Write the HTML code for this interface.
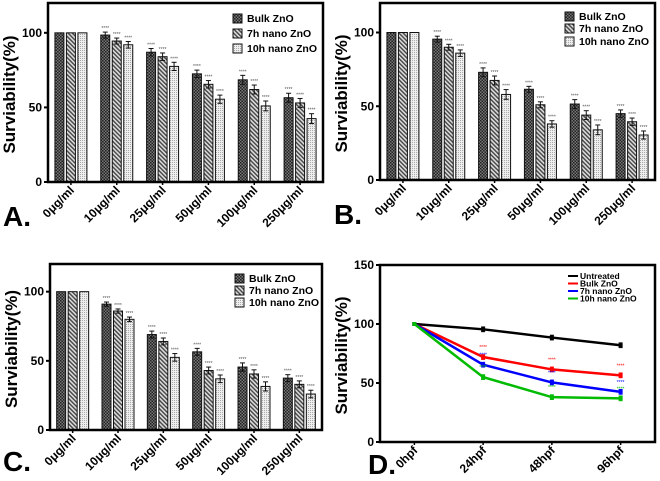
<!DOCTYPE html>
<html><head><meta charset="utf-8"><style>
body{margin:0;background:#fff;width:660px;height:481px;overflow:hidden}
svg{display:block;font-family:"Liberation Sans",Arial,sans-serif}
</style></head><body>
<svg id="fig" width="660" height="481" viewBox="0 0 660 481">
<defs>
<pattern id="pBulk" width="3" height="3" patternUnits="userSpaceOnUse"><rect width="3" height="3" fill="#777"/><rect width="1.5" height="1.5" fill="#222"/><rect x="1.5" y="1.5" width="1.5" height="1.5" fill="#222"/></pattern>
<pattern id="p7h" width="3" height="3" patternUnits="userSpaceOnUse" patternTransform="rotate(-45)"><rect width="3" height="3" fill="#ddd"/><rect width="1.4" height="3" fill="#444"/></pattern>
<pattern id="p10h" width="2" height="2" patternUnits="userSpaceOnUse"><rect width="2" height="2" fill="#eee"/><rect width="1" height="1" fill="#aaa"/></pattern>
</defs>
</svg>
<script>
const categories = ["0\u03bcg/ml","10\u03bcg/ml","25\u03bcg/ml","50\u03bcg/ml","100\u03bcg/ml","250\u03bcg/ml"];
const seriesNames = ["Bulk ZnO","7h nano ZnO","10h nano ZnO"];
const aBulk = [100,98.5,87,72.5,68.5,56.5];
const a7h = [100,94.5,84,65.5,62,53];
const a10h = [100,92,77.5,55.5,51,42.5];
const aErr = [0,2,2.5,2.5,3,3];
const bBulk = [100,95.5,73,61.5,51.5,45];
const b7h = [100,90,67.5,51,44,39.5];
const b10h = [100,86,58,38,34,30.5];
const bErr = [0,2,3,2,3,2.5];
const cBulk = [100,91,69,56.5,45.5,37.5];
const c7h = [100,86,64,43,40.5,33];
const c10h = [100,80,52.5,37,31.5,26];
const cErr = [0,1.5,2.5,2.5,3,2.5];
const yTicksBar = [0,50,100];
const timeCats = ["0hpf","24hpf","48hpf","96hpf"];
const lineNames = ["Untreated","Bulk ZnO","7h nano ZnO","10h nano ZnO"];
const dUntreated = [100,95.5,88.5,82];
const dBulk = [100,72,61.5,56.5];
const d7h = [100,65.5,50.5,42.5];
const d10h = [100,55,38,37];
const dErr = [0,2,2,2];
const yTicksLine = [0,50,100,150];

const NS="http://www.w3.org/2000/svg";
const svg=document.getElementById('fig');
function mk(tag,attrs,parent,text){const e=document.createElementNS(NS,tag);for(const k in attrs)e.setAttribute(k,attrs[k]);if(text!==undefined)e.textContent=text;(parent||svg).appendChild(e);return e;}

function barPanel(id,letter,box,series,err,legY){
  const g=mk('g',{});
  
  
  const yMax=120;
  const y=v=>box.b-(v/yMax)*(box.b-box.t);
  const band=(box.r-box.l)/categories.length;
  const x=i=>box.l+(i+0.5)*band;
  const fills=['url(#pBulk)','url(#p7h)','url(#p10h)'];
  series.forEach((vals,s)=>{
    vals.forEach((v,i)=>{
      const cx=x(i)+(s-1)*11.5;
      const r=mk('rect',{x:cx-4.5,y:y(v),width:9,height:y(0)-y(v),fill:fills[s],stroke:'#111','stroke-width':1},g);
      
      
      const e=err[i]*(s===2?1.1:1);
      if(e>0){
        mk('line',{x1:cx,x2:cx,y1:y(v+e),y2:y(v-e),stroke:'#111','stroke-width':1},g);
        mk('line',{x1:cx-2.5,x2:cx+2.5,y1:y(v+e),y2:y(v+e),stroke:'#111','stroke-width':1},g);
        mk('line',{x1:cx-2.5,x2:cx+2.5,y1:y(v-e),y2:y(v-e),stroke:'#111','stroke-width':1},g);
        const st=mk('text',{x:cx,y:y(v+e)-2,'font-size':5,'text-anchor':'middle',fill:'#555'},g,'****');
        
        
      }
    });
  });
  mk('rect',{x:box.l,y:box.t,width:box.r-box.l,height:box.b-box.t,fill:'none',stroke:'#000','stroke-width':2.5},g);
  yTicksBar.forEach(t=>{
    mk('line',{x1:box.l-4,x2:box.l,y1:y(t),y2:y(t),stroke:'#000','stroke-width':2},g);
    const tl=mk('text',{x:box.l-6,y:y(t)+4,'font-size':12,'font-weight':'bold','text-anchor':'end'},g,t);
    
    
  });
  categories.forEach((c,i)=>{
    mk('line',{x1:x(i),x2:x(i),y1:box.b,y2:box.b+3,stroke:'#000','stroke-width':1.5},g);
    const tl=mk('text',{x:x(i)+4,y:box.b+9,'font-size':12,'font-weight':'bold','text-anchor':'end',transform:`rotate(-45 ${x(i)+4} ${box.b+9})`},g,c);
    
    
  });
  const yt=mk('text',{x:0,y:0,'font-size':17,'font-weight':'bold','text-anchor':'middle',transform:`translate(${box.l-33},${(box.t+box.b)/2+2}) rotate(-90)`},g,'Surviability(%)');
  
  
  seriesNames.forEach((n,s)=>{
    const ly=legY[s];
    mk('rect',{x:box.l+185,y:ly-8,width:9,height:9,fill:fills[s],stroke:'#111'},g);
    const lt=mk('text',{x:box.l+199,y:ly,'font-size':10.5,'font-weight':'bold'},g,n);
    
    
  });
  const pl=mk('text',{x:letter[0],y:letter[1],'font-size':28,'font-weight':'bold'},g,letter[2]);
  
  
}
barPanel('a',[3,226,'A.'],{l:48,r:323,t:3,b:182},[aBulk,a7h,a10h],aErr,[22,37,52]);
barPanel('b',[334,224,'B.'],{l:380,r:655,t:3,b:180},[bBulk,b7h,b10h],bErr,[20,32,45]);
barPanel('c',[3,471,'C.'],{l:50,r:322,t:264,b:430},[cBulk,c7h,c10h],cErr,[282,294,306]);

(function(){
  const g=mk('g',{});
  
  
  const box={l:380,r:655,t:265,b:442};
  const y=v=>box.b-(v/150)*(box.b-box.t);
  const step=(box.r-box.l)/timeCats.length;
  const x=i=>box.l+(i+0.5)*step;
  const colors=['#000','#f00','#00f','#0b0'];
  const data=[dUntreated,dBulk,d7h,d10h];
  data.forEach((vals,s)=>{
    const p=mk('polyline',{points:vals.map((v,i)=>x(i)+','+y(v)).join(' '),fill:'none',stroke:colors[s],'stroke-width':2.5},g);
    
    
    vals.forEach((v,i)=>{
      const e=dErr[i];
      if(e>0){
        mk('line',{x1:x(i),x2:x(i),y1:y(v+e),y2:y(v-e),stroke:colors[s],'stroke-width':1.2},g);
        mk('line',{x1:x(i)-2,x2:x(i)+2,y1:y(v+e),y2:y(v+e),stroke:colors[s]},g);
        mk('line',{x1:x(i)-2,x2:x(i)+2,y1:y(v-e),y2:y(v-e),stroke:colors[s]},g);
      }
      const pt=mk('rect',{x:x(i)-2,y:y(v)-2,width:4,height:4,fill:colors[s]},g);
      
      
      if(i>0&&s>0){
        const st=mk('text',{x:x(i),y:y(v)-8,'font-size':5,'text-anchor':'middle',fill:colors[s]},g,'****');
        
        
      }
    });
  });
  mk('rect',{x:box.l,y:box.t,width:box.r-box.l,height:box.b-box.t,fill:'none',stroke:'#000','stroke-width':2.5},g);
  yTicksLine.forEach(t=>{
    mk('line',{x1:box.l-4,x2:box.l,y1:y(t),y2:y(t),stroke:'#000','stroke-width':2},g);
    const tl=mk('text',{x:box.l-6,y:y(t)+4,'font-size':12,'font-weight':'bold','text-anchor':'end'},g,t);
    
    
  });
  timeCats.forEach((c,i)=>{
    mk('line',{x1:x(i),x2:x(i),y1:box.b,y2:box.b+3,stroke:'#000','stroke-width':1.5},g);
    const tl=mk('text',{x:x(i)+4,y:box.b+9,'font-size':12,'font-weight':'bold','text-anchor':'end',transform:`rotate(-45 ${x(i)+4} ${box.b+9})`},g,c);
    
    
  });
  const yt=mk('text',{x:0,y:0,'font-size':17,'font-weight':'bold','text-anchor':'middle',transform:`translate(${box.l-33},${(box.t+box.b)/2+2}) rotate(-90)`},g,'Surviability(%)');
  
  
  lineNames.forEach((n,s)=>{
    const ly=276+s*7.5;
    mk('line',{x1:568,x2:578,y1:ly,y2:ly,stroke:colors[s],'stroke-width':2},g);
    const lt=mk('text',{x:580,y:ly+3,'font-size':8.5,'font-weight':'bold'},g,n);
    
    
  });
  const pl=mk('text',{x:368,y:474,'font-size':28,'font-weight':'bold'},g,'D.');
  
  
})();
</script>
</body></html>
